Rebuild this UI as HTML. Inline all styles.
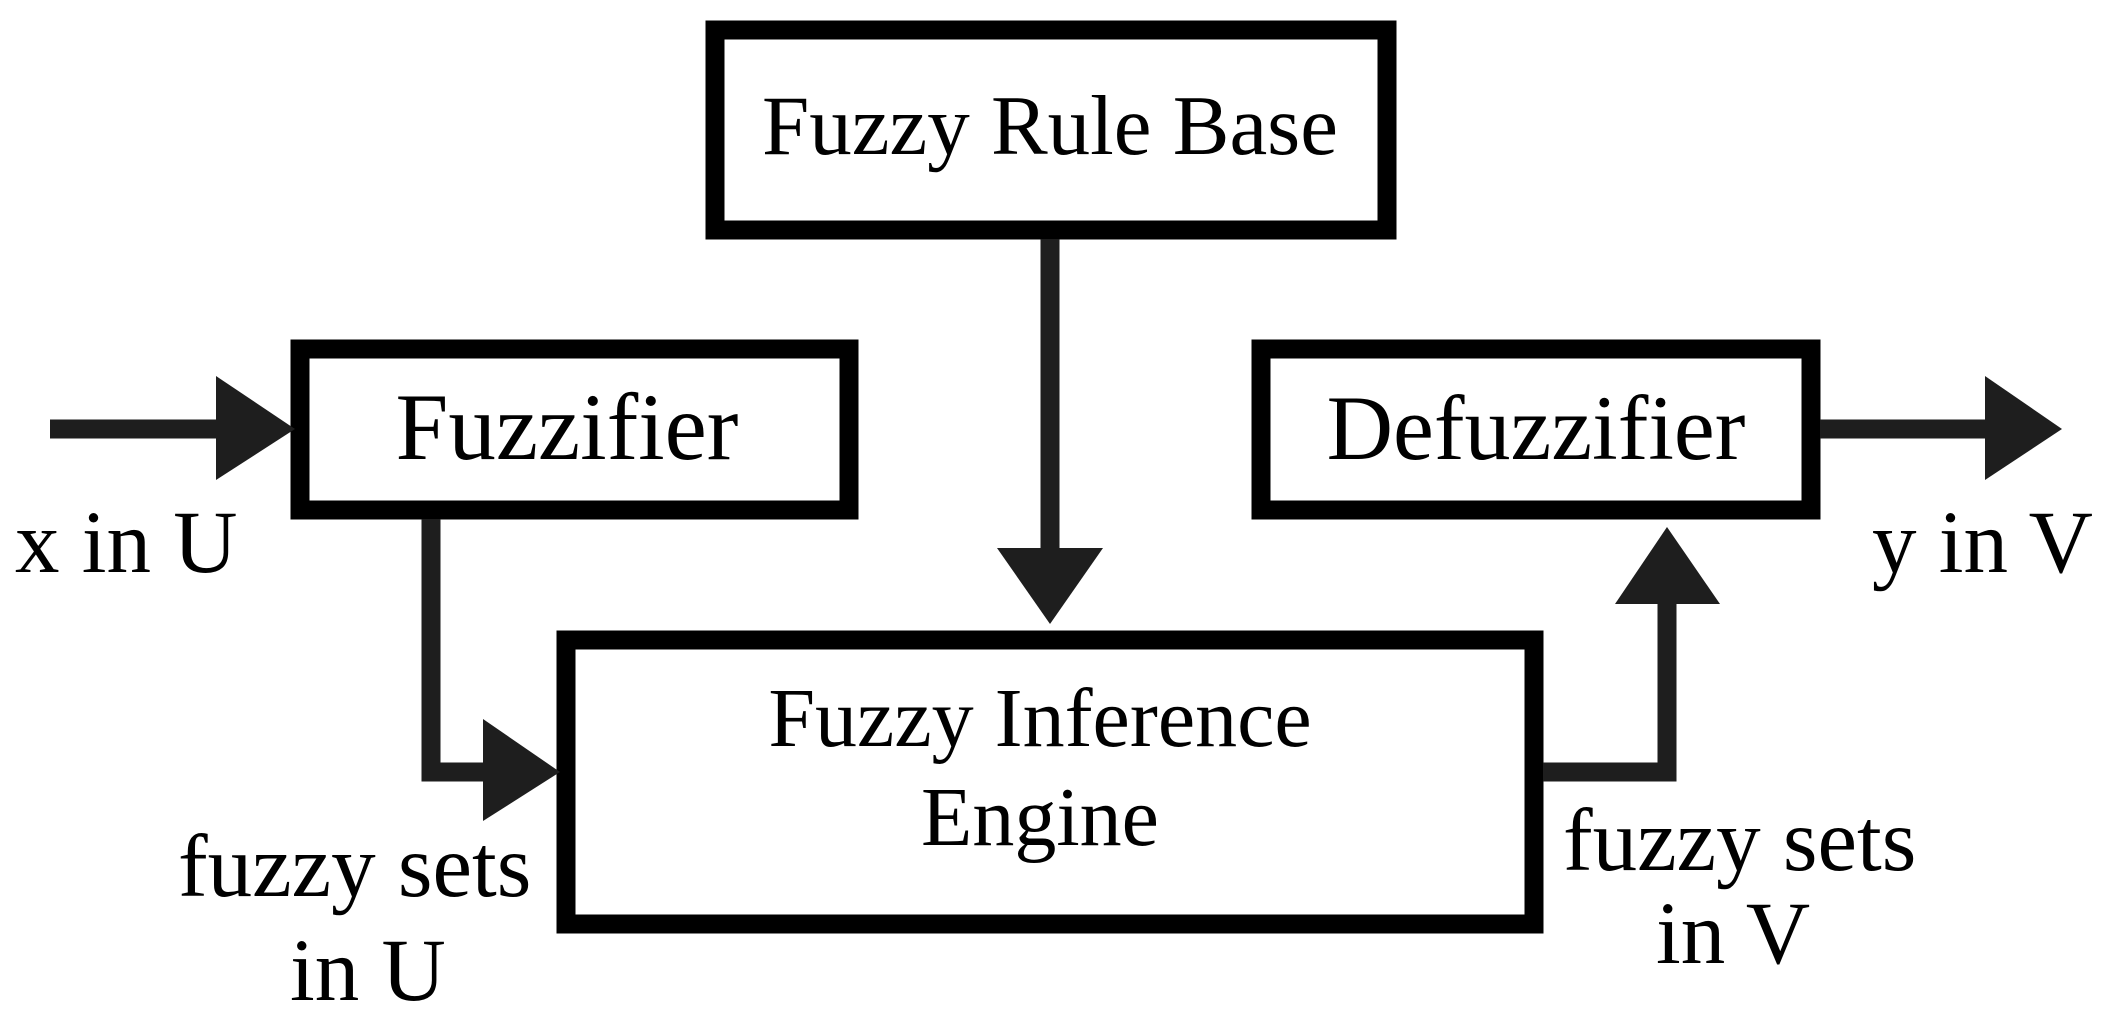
<!DOCTYPE html>
<html><head><style>
html,body{margin:0;padding:0;background:#fff;}
svg{display:block;}
text{font-family:"Liberation Serif","Times New Roman",serif;fill:#000;}
</style></head><body>
<svg width="2104" height="1028" viewBox="0 0 2104 1028" xmlns="http://www.w3.org/2000/svg">
<g fill="none" stroke="#000" stroke-width="19">
<rect x="715" y="30" width="672" height="200"/>
<rect x="300" y="349" width="549" height="161"/>
<rect x="1261" y="349" width="550" height="161"/>
<rect x="566" y="640" width="968" height="284"/>
</g>
<g stroke="#1e1e1e" stroke-width="19" fill="none">
<line x1="50" y1="429" x2="225" y2="429"/>
<line x1="1050" y1="239" x2="1050" y2="555"/>
<polyline points="431,519 431,772 490,772"/>
<polyline points="1543,772 1667,772 1667,598"/>
<line x1="1820" y1="429" x2="1990" y2="429"/>
</g>
<g fill="#1e1e1e">
<polygon points="216,376 295,429 216,480"/>
<polygon points="997,548 1103,548 1050,624"/>
<polygon points="483,719 560,772 483,821"/>
<polygon points="1615,604 1720,604 1667,527"/>
<polygon points="1985,376 2062,429 1985,480"/>
</g>
<g text-anchor="middle">
<text x="1050" y="154" font-size="85">Fuzzy Rule Base</text>
<text x="567" y="459" font-size="95">Fuzzifier</text>
<text x="1536" y="459" font-size="92">Defuzzifier</text>
<text x="1040" y="746" font-size="84">Fuzzy Inference</text>
<text x="1040" y="845" font-size="84">Engine</text>
</g>
<g font-size="89">
<text x="15" y="572">x in U</text>
<text x="1872" y="572">y in V</text>
<text x="178" y="896">fuzzy sets</text>
<text x="290" y="1000">in U</text>
<text x="1563" y="870">fuzzy sets</text>
<text x="1656" y="963">in V</text>
</g>
</svg>
</body></html>
